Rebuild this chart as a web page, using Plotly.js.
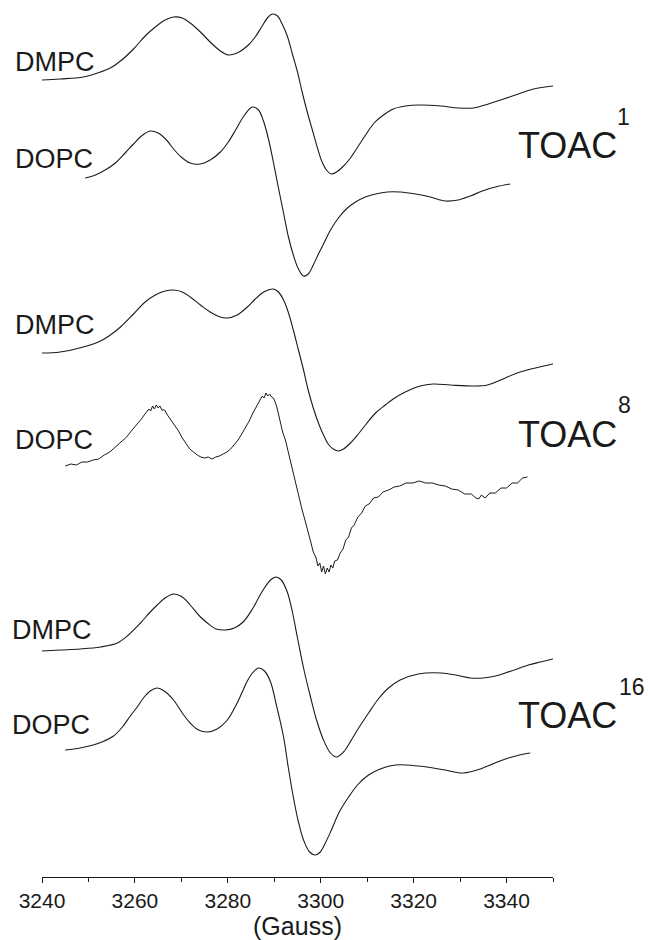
<!DOCTYPE html>
<html>
<head>
<meta charset="utf-8">
<script src="https://cdn.plot.ly/plotly-3.0.1.min.js"></script>
<style>html,body{margin:0;padding:0;background:#fff;}#chart{width:648px;height:940px;}</style>
</head>
<body>
<div id="chart"></div>
<script>
// ---- Data (magnetic field in Gauss, EPR signal in arbitrary units) ----
// TOAC1 / DMPC
const t1_dmpc_x = [3240, 3243.9, 3248.9, 3252.6, 3254.7, 3256.9, 3259.7, 3262.2, 3264.4, 3266.5,
  3268.3, 3270.2, 3271.9, 3274.1, 3276.2, 3278.4, 3280.1, 3282.0, 3284.2, 3285.9,
  3287.4, 3288.7, 3289.6, 3290.7, 3291.7, 3292.8, 3293.9, 3295.0, 3296.0, 3297.1,
  3298.2, 3299.3, 3300.3, 3301.4, 3302.3, 3303.4, 3304.7, 3306.4, 3308.1, 3309.8,
  3311.5, 3313.5, 3315.6, 3318.2, 3321.4, 3325.8, 3329.6, 3332.9, 3336.1, 3338.7,
  3341.9, 3345.8, 3350];
const t1_dmpc_y = [0, 1, 3, 8, 12, 19, 31, 44, 53, 60,
  63, 62, 57, 48, 38, 29, 25, 27, 34, 43,
  54, 63, 66, 64, 56, 44, 26, 8, -12, -32,
  -50, -68, -82, -91, -94, -92, -87, -78, -66, -54,
  -43, -35, -29, -26, -25, -26, -28, -28, -24, -20,
  -15, -9, -6];
// TOAC1 / DOPC
const t1_dopc_x = [3249.3, 3251.5, 3253.6, 3255.8, 3257.9, 3259.7, 3261.4, 3263.3, 3265.0, 3266.8,
  3268.5, 3270.2, 3271.9, 3274.1, 3276.2, 3278.4, 3280.1, 3281.8, 3283.6, 3285.3,
  3286.6, 3287.6, 3288.7, 3289.8, 3290.9, 3292.0, 3293.0, 3294.1, 3295.2, 3296.3,
  3297.3, 3298.4, 3299.5, 3300.6, 3302.1, 3303.8, 3305.5, 3307.5, 3309.6, 3311.8,
  3314.3, 3317.1, 3320.4, 3323.6, 3326.8, 3329.6, 3332.2, 3334.8, 3337.6, 3340.8];
const t1_dopc_y = [0, 3, 8, 15, 25, 34, 42, 47, 45, 38,
  28, 20, 15, 14, 18, 26, 36, 49, 63, 71,
  68, 58, 40, 16, -10, -35, -58, -77, -91, -98,
  -96, -87, -76, -66, -52, -40, -31, -24, -19, -16,
  -14, -14, -16, -19, -23, -22, -18, -13, -9, -6];
// TOAC8 / DMPC
const t8_dmpc_x = [3240, 3243.9, 3248.9, 3252.6, 3254.7, 3256.9, 3259.7, 3262.2, 3264.4, 3266.5,
  3268.3, 3270.2, 3271.9, 3274.1, 3276.2, 3278.4, 3279.9, 3282.0, 3284.2, 3285.9,
  3287.4, 3288.7, 3289.8, 3290.9, 3292.0, 3293.0, 3294.1, 3295.2, 3296.3, 3297.3,
  3298.4, 3299.5, 3300.6, 3301.6, 3302.7, 3303.8, 3304.9, 3306.4, 3308.1, 3309.8,
  3311.8, 3313.9, 3315.6, 3318.2, 3321.4, 3324.2, 3327.9, 3332.9, 3335.9, 3338.7,
  3342.3, 3346.2, 3350];
const t8_dmpc_y = [0, 1, 6, 12, 18, 26, 39, 51, 58, 62,
  63, 61, 56, 48, 41, 36, 35, 38, 46, 54,
  60, 63, 64, 61, 53, 41, 23, 3, -17, -37,
  -55, -70, -82, -91, -96, -98, -96, -90, -81, -71,
  -60, -52, -46, -39, -33, -31, -32, -33, -32, -27,
  -20, -15, -11];
// TOAC8 / DOPC (noisy spectrum)
const t8_dopc_x = [3245.0, 3246.2, 3247.4, 3248.6, 3249.8, 3251.0, 3252.2, 3253.4, 3254.6, 3255.8,
  3257.0, 3258.2, 3259.4, 3260.6, 3261.4, 3262.0, 3262.6, 3263.0, 3263.4, 3263.8,
  3264.2, 3264.6, 3265.0, 3265.4, 3265.8, 3266.4, 3267.0, 3267.8, 3268.6, 3269.4,
  3270.2, 3271.0, 3271.8, 3272.6, 3273.4, 3274.2, 3275.0, 3275.8, 3276.6, 3277.4,
  3278.2, 3279.0, 3279.8, 3280.6, 3281.4, 3282.2, 3283.0, 3283.8, 3284.6, 3285.4,
  3286.0, 3286.6, 3287.0, 3287.4, 3287.8, 3288.2, 3288.6, 3289.0, 3289.4, 3289.8,
  3290.2, 3290.6, 3291.2, 3291.8, 3292.4, 3293.0, 3293.6, 3294.2, 3294.8, 3295.4,
  3296.0, 3296.6, 3297.2, 3297.8, 3298.4, 3299.0, 3299.4, 3299.8, 3300.2, 3300.6,
  3301.0, 3301.4, 3301.8, 3302.2, 3302.6, 3303.0, 3303.6, 3304.2, 3304.8, 3305.4,
  3306.0, 3306.6, 3307.2, 3308.0, 3308.8, 3309.6, 3310.4, 3311.4, 3312.4, 3313.4,
  3314.6, 3315.8, 3317.0, 3318.4, 3319.8, 3321.2, 3322.6, 3324.0, 3325.4, 3326.8,
  3328.2, 3329.6, 3331.0, 3332.4, 3333.4, 3334.0, 3334.6, 3335.4, 3336.4, 3337.6,
  3338.8, 3340.0, 3341.2, 3342.4, 3343.4, 3344.5];
const t8_dopc_y = [0, 2, 1, 4, 4, 6, 7, 11, 14, 19,
  24, 29, 36, 42, 47, 51, 54, 57, 55, 60,
  57, 61, 58, 60, 56, 56, 51, 46, 40, 35,
  28, 23, 17, 14, 11, 9, 8, 9, 7, 9,
  10, 12, 14, 17, 21, 26, 32, 38, 45, 53,
  58, 64, 66, 70, 68, 73, 70, 72, 69, 68,
  64, 58, 46, 34, 26, 14, 4, -10, -21, -32,
  -44, -54, -66, -75, -86, -92, -100, -97, -106, -100,
  -108, -102, -106, -99, -102, -95, -94, -87, -83, -74,
  -71, -62, -59, -51, -47, -40, -38, -32, -31, -26,
  -24, -21, -20, -17, -17, -15, -17, -17, -19, -20,
  -23, -24, -28, -28, -32, -33, -29, -32, -27, -27,
  -22, -22, -17, -17, -12, -11];
// TOAC16 / DMPC
const t16_dmpc_x = [3240, 3243.9, 3248.2, 3252.6, 3256.2, 3258.6, 3261.2, 3263.3, 3264.8, 3266.5,
  3268.3, 3270.2, 3271.9, 3273.9, 3275.6, 3277.5, 3279.5, 3281.4, 3283.3, 3285.3,
  3286.6, 3287.6, 3289.2, 3290.4, 3291.5, 3292.8, 3293.9, 3295.0, 3296.3, 3297.8,
  3299.1, 3300.6, 3302.1, 3303.4, 3304.9, 3306.6, 3308.3, 3310.3, 3312.4, 3314.6,
  3317.1, 3321.0, 3326.0, 3329.0, 3332.2, 3335.0, 3337.6, 3339.7, 3342.3, 3344.7,
  3347.3, 3350];
const t16_dmpc_y = [0, 1, 2, 4, 8, 16, 28, 39, 46, 53,
  57, 54, 46, 35, 28, 22, 21, 23, 29, 42,
  53, 61, 71, 74, 71, 59, 39, 13, -17, -46,
  -69, -89, -102, -106, -101, -89, -76, -62, -48, -37,
  -29, -23, -22, -24, -27, -27, -25, -22, -18, -14,
  -11, -8];
// TOAC16 / DOPC
const t16_dopc_x = [3245.0, 3248.2, 3251.0, 3253.4, 3255.4, 3257.3, 3259.0, 3260.5, 3262.0, 3263.3,
  3264.8, 3266.3, 3268.3, 3270.2, 3271.9, 3273.7, 3275.6, 3277.7, 3279.9, 3281.8,
  3283.1, 3284.2, 3285.3, 3286.6, 3287.9, 3289.2, 3290.4, 3292.0, 3293.0, 3294.1,
  3295.2, 3296.3, 3297.6, 3298.8, 3299.9, 3301.0, 3302.3, 3304.0, 3306.0, 3308.1,
  3310.3, 3312.8, 3316.1, 3321.0, 3324.2, 3326.8, 3330.3, 3332.9, 3335.4, 3338.0,
  3340.4, 3342.8, 3345.1];
const t16_dopc_y = [0, 2, 5, 9, 14, 23, 34, 43, 53, 59,
  62, 59, 50, 37, 27, 20, 18, 21, 30, 45,
  58, 69, 77, 82, 79, 68, 46, 13, -17, -47,
  -72, -90, -102, -105, -102, -93, -80, -62, -47, -34,
  -25, -19, -15, -16, -18, -20, -23, -21, -17, -12,
  -8, -5, -3];

// vertical stacking offsets of each spectrum (arbitrary units)
const offsets = {t1_dmpc: 797, t1_dopc: 699, t8_dmpc: 524, t8_dopc: 411, t16_dmpc: 226, t16_dopc: 127};

const sampleLabels = ['DMPC', 'DOPC'];
const peptideLabels = ['TOAC', 'TOAC', 'TOAC'];
const positionLabels = ['1', '8', '16'];
const tickVals = [3240, 3260, 3280, 3300, 3320, 3340];

// ---- Traces ----
function mk(x, y, off, shape, w) {
  return {
    x: x, y: y.map(v => v + off), type: 'scatter', mode: 'lines',
    line: {color: '#1a1a1a', width: w, shape: shape, smoothing: 1},
    hoverinfo: 'skip', showlegend: false, cliponaxis: false
  };
}
const data = [
  mk(t1_dmpc_x, t1_dmpc_y, offsets.t1_dmpc, 'spline', 1.1),
  mk(t1_dopc_x, t1_dopc_y, offsets.t1_dopc, 'spline', 1.1),
  mk(t8_dmpc_x, t8_dmpc_y, offsets.t8_dmpc, 'spline', 1.1),
  mk(t8_dopc_x, t8_dopc_y, offsets.t8_dopc, 'linear', 1),
  mk(t16_dmpc_x, t16_dmpc_y, offsets.t16_dmpc, 'spline', 1.1),
  mk(t16_dopc_x, t16_dopc_y, offsets.t16_dopc, 'spline', 1.1)
];

// ---- Layout helpers (pixel -> paper) ----
const L = 42, R = 553, T = 0, B = 877;
const px = p => (p - L) / (R - L);
const py = p => (B - p) / (B - T);
const font = 'Liberation Sans, Arial, Helvetica, sans-serif';
const txt = '#1a1a1a';

function ann(text, x, y, size, xanchor) {
  return {text: text, xref: 'paper', yref: 'paper', x: px(x), y: py(y),
    xanchor: xanchor || 'left', yanchor: 'middle', showarrow: false,
    font: {family: font, size: size, color: txt}, borderpad: 0};
}
const annotations = [
  ann(sampleLabels[0], 14, 62, 27), ann(sampleLabels[1], 14, 159, 27),
  ann(sampleLabels[0], 14, 325, 27), ann(sampleLabels[1], 14, 440, 27),
  ann(sampleLabels[0], 11, 630, 27), ann(sampleLabels[1], 11, 725, 27),
  ann(peptideLabels[0], 517, 146, 36), ann(positionLabels[0], 623, 117, 23, 'center'),
  ann(peptideLabels[1], 517, 434, 36), ann(positionLabels[1], 624, 405, 23, 'center'),
  ann(peptideLabels[2], 517, 715, 36), ann(positionLabels[2], 632, 687, 23, 'center')
];

const layout = {
  width: 648, height: 940,
  margin: {l: L, r: 648 - R, t: T, b: 940 - B},
  paper_bgcolor: '#ffffff', plot_bgcolor: '#ffffff',
  showlegend: false,
  xaxis: {
    range: [3240, 3350], showgrid: false, zeroline: false,
    showline: true, linecolor: '#1a1a1a', linewidth: 1,
    ticks: 'outside', ticklen: 5, tickwidth: 1, tickcolor: '#1a1a1a',
    tickvals: tickVals, ticktext: tickVals.map(String),
    tickfont: {family: font, size: 21, color: txt},
    minor: {dtick: 10, tick0: 3240, ticks: 'outside', ticklen: 4, tickwidth: 1, tickcolor: '#1a1a1a', showgrid: false},
    title: {text: '(Gauss)', font: {family: font, size: 25, color: txt}, standoff: 8}
  },
  yaxis: {range: [0, B - T], visible: false, showgrid: false, zeroline: false, fixedrange: true},
  annotations: annotations
};

Plotly.newPlot('chart', data, layout, {displayModeBar: false, staticPlot: true});
</script>
</body>
</html>
